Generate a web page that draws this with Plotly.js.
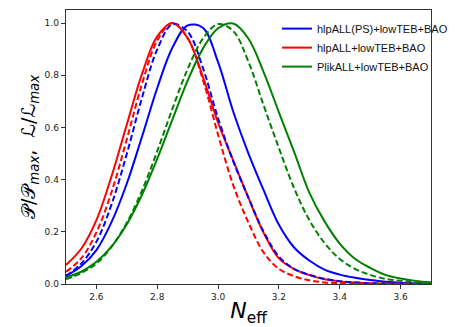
<!DOCTYPE html>
<html>
<head>
<meta charset="utf-8">
<script src="https://cdn.plot.ly/plotly-3.0.1.min.js"></script>
<style>html,body{margin:0;padding:0;background:#fff;}#chart{width:463px;height:327px;}</style>
</head>
<body>
<div id="chart"></div>
<script>
const neff = [2.50,2.55,2.60,2.65,2.70,2.75,2.80,2.85,2.90,2.95,3.00,3.05,3.10,3.15,3.20,3.25,3.30,3.35,3.40,3.45,3.50,3.55,3.60,3.65,3.70];

const seriesNames = ["hlpALL(PS)+lowTEB+BAO", "hlpALL+lowTEB+BAO", "PlikALL+lowTEB+BAO"];

const bluePost = [0.031,0.068,0.130,0.238,0.385,0.565,0.751,0.906,0.991,0.982,0.850,0.660,0.500,0.359,0.227,0.140,0.090,0.055,0.036,0.024,0.015,0.009,0.005,0.003,0.0015];
const blueLike = [0.031,0.078,0.162,0.306,0.499,0.714,0.899,0.995,0.967,0.828,0.635,0.470,0.330,0.200,0.105,0.058,0.035,0.020,0.011,0.006,0.003,0.0015,0.0007,0.0003,0.0001];
const redPost  = [0.073,0.135,0.245,0.414,0.611,0.805,0.949,1.000,0.942,0.794,0.618,0.473,0.330,0.195,0.098,0.057,0.034,0.018,0.010,0.006,0.003,0.002,0.001,0.0005,0.0002];
const redLike  = [0.047,0.098,0.198,0.353,0.555,0.767,0.933,1.000,0.943,0.783,0.572,0.378,0.235,0.120,0.058,0.030,0.014,0.006,0.003,0.001,0.0005,0.0002,0.0001,0,0];
const greenPost = [0.026,0.047,0.085,0.144,0.229,0.342,0.480,0.631,0.779,0.902,0.980,0.998,0.940,0.811,0.658,0.506,0.350,0.240,0.155,0.097,0.062,0.035,0.021,0.012,0.007];
const greenLike = [0.018,0.042,0.078,0.143,0.235,0.358,0.509,0.672,0.824,0.940,0.996,0.969,0.851,0.684,0.521,0.367,0.245,0.157,0.096,0.058,0.035,0.020,0.012,0.007,0.004];

const colors = ["#0000ff", "#ff0000", "#008000"];

function tr(y, name, color, dashed, show) {
  return {
    x: neff, y: y, type: "scatter", mode: "lines",
    name: name, showlegend: show,
    line: {color: color, width: 2, shape: "spline", smoothing: 1, dash: dashed ? "6px,3px" : "solid"},
    hoverinfo: "skip"
  };
}

const data = [
  tr(bluePost, seriesNames[0], colors[0], false, true),
  tr(redPost, seriesNames[1], colors[1], false, true),
  tr(greenPost, seriesNames[2], colors[2], false, true),
  tr(blueLike, seriesNames[0], colors[0], true, false),
  tr(redLike, seriesNames[1], colors[1], true, false),
  tr(greenLike, seriesNames[2], colors[2], true, false)
];

const axisCommon = {
  showgrid: false, zeroline: false, showline: true, mirror: true,
  linecolor: "#333", linewidth: 1.3,
  ticks: "outside", ticklen: 4, tickwidth: 1, tickcolor: "#333",
  tickfont: {family: "DejaVu Sans", size: 9, color: "#222"}
};

const layout = {
  width: 463, height: 327,
  margin: {l: 66, r: 15, t: 10, b: 43},
  paper_bgcolor: "#fff", plot_bgcolor: "#fff",
  showlegend: true,
  legend: {
    x: 0.578, y: 0.985, xanchor: "left", yanchor: "top",
    bgcolor: "rgba(255,255,255,0)", borderwidth: 0,
    font: {family: "Liberation Sans", size: 11, color: "#111"},
    itemwidth: 30, tracegroupgap: 0
  },
  xaxis: Object.assign({}, axisCommon, {
    range: [2.5, 3.7], tickvals: [2.6, 2.8, 3.0, 3.2, 3.4, 3.6], tickformat: ".1f",
    title: {text: "<i>N</i><sub>eff</sub>", font: {family: "DejaVu Sans", size: 22, color: "#000"}, standoff: 6}
  }),
  yaxis: Object.assign({}, axisCommon, {
    range: [0, 1.05], tickvals: [0, 0.2, 0.4, 0.6, 0.8, 1.0], tickformat: ".1f",
    title: {text: "𝒫/𝒫<sub><i>max</i></sub>,  ℒ/ℒ<sub><i>max</i></sub>", font: {family: "DejaVu Sans", size: 19, color: "#000"}, standoff: 4}
  })
};

Plotly.newPlot("chart", data, layout, {staticPlot: true, displayModeBar: false});
</script>
</body>
</html>
